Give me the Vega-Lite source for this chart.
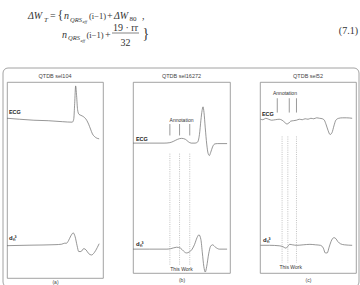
{
  "$schema": "https://vega.github.io/schema/vega-lite/v6.json",
  "padding": 0,
  "background": "white",
  "spacing": 22,
  "bounds": "flush",
  "config": {
    "view": {"stroke": "#8c8c8c", "strokeWidth": 0.8},
    "font": "Liberation Sans",
    "title": {"fontSize": 5.5, "fontWeight": "normal", "color": "#444", "offset": 3, "font": "Liberation Sans"}
  },
  "vconcat": [
    {
      "width": 360,
      "height": 60,
      "view": {"stroke": null},
      "data": {"values": [{"k": 1}]},
      "layer": [
        {"mark": {"type": "rect", "fill": "white", "fillOpacity": 0, "stroke": "#8c8c8c", "strokeWidth": 0.8, "cornerRadius": 5, "clip": false},
         "encoding": {"x": {"datum": 3, "type": "quantitative", "scale": {"domain": [0, 360]}, "axis": null}, "x2": {"datum": 359}, "y": {"datum": 68, "type": "quantitative", "scale": {"domain": [0, 60], "reverse": true}, "axis": null}, "y2": {"datum": 287}}},
        {"mark": {"type": "text", "align": "left", "baseline": "alphabetic", "font": "Liberation Serif", "fontSize": 10, "fontStyle": "italic", "color": "#333"},
         "encoding": {"x": {"datum": 28, "type": "quantitative", "scale": {"domain": [0, 360]}, "axis": null}, "y": {"datum": 19, "type": "quantitative", "scale": {"domain": [0, 60], "reverse": true}, "axis": null}, "text": {"value": "ΔW"}}},
        {"mark": {"type": "text", "align": "left", "baseline": "alphabetic", "font": "Liberation Serif", "fontSize": 7, "fontStyle": "italic", "color": "#333"},
         "encoding": {"x": {"datum": 44, "type": "quantitative", "scale": {"domain": [0, 360]}, "axis": null}, "y": {"datum": 21.5, "type": "quantitative", "scale": {"domain": [0, 60], "reverse": true}, "axis": null}, "text": {"value": "T"}}},
        {"mark": {"type": "text", "align": "left", "baseline": "alphabetic", "font": "Liberation Serif", "fontSize": 10, "color": "#333"},
         "encoding": {"x": {"datum": 50, "type": "quantitative", "scale": {"domain": [0, 360]}, "axis": null}, "y": {"datum": 19, "type": "quantitative", "scale": {"domain": [0, 60], "reverse": true}, "axis": null}, "text": {"value": "="}}},
        {"mark": {"type": "text", "align": "left", "baseline": "alphabetic", "font": "Liberation Serif", "fontSize": 12, "color": "#333"},
         "encoding": {"x": {"datum": 57.5, "type": "quantitative", "scale": {"domain": [0, 360]}, "axis": null}, "y": {"datum": 18.5, "type": "quantitative", "scale": {"domain": [0, 60], "reverse": true}, "axis": null}, "text": {"value": "{"}}},
        {"mark": {"type": "text", "align": "left", "baseline": "alphabetic", "font": "Liberation Serif", "fontSize": 10, "fontStyle": "italic", "color": "#333"},
         "encoding": {"x": {"datum": 64, "type": "quantitative", "scale": {"domain": [0, 360]}, "axis": null}, "y": {"datum": 19, "type": "quantitative", "scale": {"domain": [0, 60], "reverse": true}, "axis": null}, "text": {"value": "n"}}},
        {"mark": {"type": "text", "align": "left", "baseline": "alphabetic", "font": "Liberation Serif", "fontSize": 6.5, "fontStyle": "italic", "color": "#333"},
         "encoding": {"x": {"datum": 70, "type": "quantitative", "scale": {"domain": [0, 360]}, "axis": null}, "y": {"datum": 21.5, "type": "quantitative", "scale": {"domain": [0, 60], "reverse": true}, "axis": null}, "text": {"value": "QRS"}}},
        {"mark": {"type": "text", "align": "left", "baseline": "alphabetic", "font": "Liberation Serif", "fontSize": 4.5, "fontStyle": "italic", "color": "#333"},
         "encoding": {"x": {"datum": 82.5, "type": "quantitative", "scale": {"domain": [0, 360]}, "axis": null}, "y": {"datum": 23, "type": "quantitative", "scale": {"domain": [0, 60], "reverse": true}, "axis": null}, "text": {"value": "eff"}}},
        {"mark": {"type": "text", "align": "left", "baseline": "alphabetic", "font": "Liberation Serif", "fontSize": 8.5, "color": "#333"},
         "encoding": {"x": {"datum": 89, "type": "quantitative", "scale": {"domain": [0, 360]}, "axis": null}, "y": {"datum": 19, "type": "quantitative", "scale": {"domain": [0, 60], "reverse": true}, "axis": null}, "text": {"value": "(i−1)"}}},
        {"mark": {"type": "text", "align": "left", "baseline": "alphabetic", "font": "Liberation Serif", "fontSize": 10, "color": "#333"},
         "encoding": {"x": {"datum": 107, "type": "quantitative", "scale": {"domain": [0, 360]}, "axis": null}, "y": {"datum": 19, "type": "quantitative", "scale": {"domain": [0, 60], "reverse": true}, "axis": null}, "text": {"value": "+"}}},
        {"mark": {"type": "text", "align": "left", "baseline": "alphabetic", "font": "Liberation Serif", "fontSize": 10, "fontStyle": "italic", "color": "#333"},
         "encoding": {"x": {"datum": 114, "type": "quantitative", "scale": {"domain": [0, 360]}, "axis": null}, "y": {"datum": 19, "type": "quantitative", "scale": {"domain": [0, 60], "reverse": true}, "axis": null}, "text": {"value": "ΔW"}}},
        {"mark": {"type": "text", "align": "left", "baseline": "alphabetic", "font": "Liberation Serif", "fontSize": 7, "color": "#333"},
         "encoding": {"x": {"datum": 129.5, "type": "quantitative", "scale": {"domain": [0, 360]}, "axis": null}, "y": {"datum": 21, "type": "quantitative", "scale": {"domain": [0, 60], "reverse": true}, "axis": null}, "text": {"value": "80"}}},
        {"mark": {"type": "text", "align": "left", "baseline": "alphabetic", "font": "Liberation Serif", "fontSize": 10, "color": "#333"},
         "encoding": {"x": {"datum": 142, "type": "quantitative", "scale": {"domain": [0, 360]}, "axis": null}, "y": {"datum": 19, "type": "quantitative", "scale": {"domain": [0, 60], "reverse": true}, "axis": null}, "text": {"value": ","}}},
        {"mark": {"type": "text", "align": "left", "baseline": "alphabetic", "font": "Liberation Serif", "fontSize": 10, "fontStyle": "italic", "color": "#333"},
         "encoding": {"x": {"datum": 62, "type": "quantitative", "scale": {"domain": [0, 360]}, "axis": null}, "y": {"datum": 37.5, "type": "quantitative", "scale": {"domain": [0, 60], "reverse": true}, "axis": null}, "text": {"value": "n"}}},
        {"mark": {"type": "text", "align": "left", "baseline": "alphabetic", "font": "Liberation Serif", "fontSize": 6.5, "fontStyle": "italic", "color": "#333"},
         "encoding": {"x": {"datum": 68, "type": "quantitative", "scale": {"domain": [0, 360]}, "axis": null}, "y": {"datum": 40, "type": "quantitative", "scale": {"domain": [0, 60], "reverse": true}, "axis": null}, "text": {"value": "QRS"}}},
        {"mark": {"type": "text", "align": "left", "baseline": "alphabetic", "font": "Liberation Serif", "fontSize": 4.5, "fontStyle": "italic", "color": "#333"},
         "encoding": {"x": {"datum": 80.5, "type": "quantitative", "scale": {"domain": [0, 360]}, "axis": null}, "y": {"datum": 41.5, "type": "quantitative", "scale": {"domain": [0, 60], "reverse": true}, "axis": null}, "text": {"value": "eff"}}},
        {"mark": {"type": "text", "align": "left", "baseline": "alphabetic", "font": "Liberation Serif", "fontSize": 8.5, "color": "#333"},
         "encoding": {"x": {"datum": 86.5, "type": "quantitative", "scale": {"domain": [0, 360]}, "axis": null}, "y": {"datum": 37.5, "type": "quantitative", "scale": {"domain": [0, 60], "reverse": true}, "axis": null}, "text": {"value": "(i−1)"}}},
        {"mark": {"type": "text", "align": "left", "baseline": "alphabetic", "font": "Liberation Serif", "fontSize": 10, "color": "#333"},
         "encoding": {"x": {"datum": 105, "type": "quantitative", "scale": {"domain": [0, 360]}, "axis": null}, "y": {"datum": 37.5, "type": "quantitative", "scale": {"domain": [0, 60], "reverse": true}, "axis": null}, "text": {"value": "+"}}},
        {"mark": {"type": "text", "align": "center", "baseline": "alphabetic", "font": "Liberation Serif", "fontSize": 10, "color": "#333"},
         "encoding": {"x": {"datum": 125.5, "type": "quantitative", "scale": {"domain": [0, 360]}, "axis": null}, "y": {"datum": 30.5, "type": "quantitative", "scale": {"domain": [0, 60], "reverse": true}, "axis": null}, "text": {"value": "19 · rr"}}},
        {"mark": {"type": "rule", "stroke": "#333", "strokeWidth": 0.6},
         "encoding": {"x": {"datum": 112, "type": "quantitative", "scale": {"domain": [0, 360]}, "axis": null}, "x2": {"datum": 139}, "y": {"datum": 33, "type": "quantitative", "scale": {"domain": [0, 60], "reverse": true}, "axis": null}}},
        {"mark": {"type": "text", "align": "center", "baseline": "alphabetic", "font": "Liberation Serif", "fontSize": 10, "color": "#333"},
         "encoding": {"x": {"datum": 125.5, "type": "quantitative", "scale": {"domain": [0, 360]}, "axis": null}, "y": {"datum": 46, "type": "quantitative", "scale": {"domain": [0, 60], "reverse": true}, "axis": null}, "text": {"value": "32"}}},
        {"mark": {"type": "text", "align": "left", "baseline": "alphabetic", "font": "Liberation Serif", "fontSize": 14, "color": "#333"},
         "encoding": {"x": {"datum": 142.5, "type": "quantitative", "scale": {"domain": [0, 360]}, "axis": null}, "y": {"datum": 37.5, "type": "quantitative", "scale": {"domain": [0, 60], "reverse": true}, "axis": null}, "text": {"value": "}"}}},
        {"mark": {"type": "text", "align": "right", "baseline": "alphabetic", "font": "Liberation Serif", "fontSize": 10, "color": "#333"},
         "encoding": {"x": {"datum": 358, "type": "quantitative", "scale": {"domain": [0, 360]}, "axis": null}, "y": {"datum": 33.5, "type": "quantitative", "scale": {"domain": [0, 60], "reverse": true}, "axis": null}, "text": {"value": "(7.1)"}}}
      ]
    },
    {
      "hconcat": [
        {"width": 7, "height": 10, "view": {"stroke": null}, "data": {"values": []}, "mark": "point"},
        {
          "width": 96,
          "height": 196,
          "title": {"text": "QTDB sel104"},
          "layer": [
            {
              "data": {"values": [
                {"s": "ecg", "t": 0, "v": 163}, {"s": "ecg", "t": 13, "v": 162}, {"s": "ecg", "t": 28, "v": 161}, {"s": "ecg", "t": 43, "v": 160.5}, {"s": "ecg", "t": 58, "v": 159.5}, {"s": "ecg", "t": 68, "v": 159}, {"s": "ecg", "t": 69.5, "v": 162}, {"s": "ecg", "t": 70.5, "v": 178}, {"s": "ecg", "t": 71.5, "v": 196}, {"s": "ecg", "t": 72.5, "v": 186}, {"s": "ecg", "t": 73.5, "v": 172}, {"s": "ecg", "t": 75, "v": 167}, {"s": "ecg", "t": 77, "v": 166}, {"s": "ecg", "t": 79, "v": 165}, {"s": "ecg", "t": 81, "v": 163.5}, {"s": "ecg", "t": 83, "v": 161}, {"s": "ecg", "t": 85, "v": 157}, {"s": "ecg", "t": 87, "v": 152}, {"s": "ecg", "t": 89, "v": 147}, {"s": "ecg", "t": 91, "v": 144.5}, {"s": "ecg", "t": 93, "v": 143}, {"s": "ecg", "t": 96, "v": 142},
                {"s": "d", "t": 0, "v": 33}, {"s": "d", "t": 25, "v": 33.5}, {"s": "d", "t": 50, "v": 34}, {"s": "d", "t": 57, "v": 34.5}, {"s": "d", "t": 60, "v": 35.5}, {"s": "d", "t": 62, "v": 35.5}, {"s": "d", "t": 64, "v": 38}, {"s": "d", "t": 66.5, "v": 43}, {"s": "d", "t": 69, "v": 46}, {"s": "d", "t": 71, "v": 42}, {"s": "d", "t": 73, "v": 33}, {"s": "d", "t": 74.7, "v": 27}, {"s": "d", "t": 77, "v": 27}, {"s": "d", "t": 80, "v": 30}, {"s": "d", "t": 82.5, "v": 28.5}, {"s": "d", "t": 85, "v": 25}, {"s": "d", "t": 88, "v": 23.5}, {"s": "d", "t": 91, "v": 26}, {"s": "d", "t": 94, "v": 31}, {"s": "d", "t": 96, "v": 35}
              ]},
              "mark": {"type": "line", "stroke": "#6a6a6a", "strokeWidth": 0.7, "interpolate": "monotone"},
              "encoding": {
                "x": {"field": "t", "type": "quantitative", "scale": {"domain": [0, 96]}, "axis": {"title": "(a)", "labels": false, "ticks": false, "domain": false, "grid": false, "titleFontSize": 5, "titleFontWeight": "normal", "titleColor": "#444", "titlePadding": 1, "titleFont": "Liberation Sans"}},
                "y": {"field": "v", "type": "quantitative", "scale": {"domain": [0, 196]}, "axis": null},
                "detail": {"field": "s"}
              }
            },
            {"data": {"values": [{"k": 1}]},
             "mark": {"type": "text", "align": "left", "baseline": "middle", "fontSize": 5.5, "fontWeight": "bold", "color": "#222"},
             "encoding": {"x": {"datum": 2}, "y": {"datum": 169}, "text": {"value": "ECG"}}},
            {"data": {"values": [{"k": 1}]},
             "mark": {"type": "text", "align": "left", "baseline": "middle", "fontSize": 6, "fontWeight": "bold", "color": "#222"},
             "encoding": {"x": {"datum": 2}, "y": {"datum": 41}, "text": {"value": "dₙ³"}}}
          ]
        },
        {"width": 30, "height": 10, "view": {"stroke": null}, "data": {"values": []}, "mark": "point"},
        {
          "width": 97,
          "height": 191,
          "title": {"text": "QTDB sel16272"},
          "layer": [
            {
              "data": {"values": [
                {"s": "ecg", "t": 0, "v": 136}, {"s": "ecg", "t": 17, "v": 136}, {"s": "ecg", "t": 32, "v": 136}, {"s": "ecg", "t": 38, "v": 136.5}, {"s": "ecg", "t": 42, "v": 138}, {"s": "ecg", "t": 46, "v": 140}, {"s": "ecg", "t": 50, "v": 141}, {"s": "ecg", "t": 54, "v": 140}, {"s": "ecg", "t": 57, "v": 137.5}, {"s": "ecg", "t": 60, "v": 136}, {"s": "ecg", "t": 64, "v": 136}, {"s": "ecg", "t": 66.5, "v": 137}, {"s": "ecg", "t": 68.5, "v": 145}, {"s": "ecg", "t": 70, "v": 160}, {"s": "ecg", "t": 71.2, "v": 170}, {"s": "ecg", "t": 72.2, "v": 174}, {"s": "ecg", "t": 73.2, "v": 168}, {"s": "ecg", "t": 74.5, "v": 152}, {"s": "ecg", "t": 76, "v": 135}, {"s": "ecg", "t": 77.5, "v": 125}, {"s": "ecg", "t": 78.7, "v": 123}, {"s": "ecg", "t": 80, "v": 126}, {"s": "ecg", "t": 82, "v": 132}, {"s": "ecg", "t": 84, "v": 135}, {"s": "ecg", "t": 87, "v": 135.5}, {"s": "ecg", "t": 97, "v": 135.5},
                {"s": "d", "t": 0, "v": 25}, {"s": "d", "t": 17, "v": 25}, {"s": "d", "t": 35, "v": 25}, {"s": "d", "t": 39, "v": 25.5}, {"s": "d", "t": 45, "v": 27}, {"s": "d", "t": 49, "v": 26}, {"s": "d", "t": 52, "v": 23}, {"s": "d", "t": 55, "v": 21}, {"s": "d", "t": 58, "v": 22}, {"s": "d", "t": 61, "v": 25}, {"s": "d", "t": 63.5, "v": 30}, {"s": "d", "t": 66, "v": 37}, {"s": "d", "t": 68, "v": 40}, {"s": "d", "t": 70, "v": 35}, {"s": "d", "t": 71.5, "v": 21}, {"s": "d", "t": 73, "v": 7}, {"s": "d", "t": 74.5, "v": 1}, {"s": "d", "t": 76, "v": 7}, {"s": "d", "t": 78, "v": 20}, {"s": "d", "t": 80, "v": 28}, {"s": "d", "t": 82, "v": 29.5}, {"s": "d", "t": 85, "v": 27}, {"s": "d", "t": 89, "v": 25}, {"s": "d", "t": 97, "v": 25}
              ]},
              "mark": {"type": "line", "stroke": "#6a6a6a", "strokeWidth": 0.7, "interpolate": "monotone"},
              "encoding": {
                "x": {"field": "t", "type": "quantitative", "scale": {"domain": [0, 97]}, "axis": {"title": "(b)", "labels": false, "ticks": false, "domain": false, "grid": false, "titleFontSize": 5, "titleFontWeight": "normal", "titleColor": "#444", "titlePadding": 4, "titleFont": "Liberation Sans"}},
                "y": {"field": "v", "type": "quantitative", "scale": {"domain": [0, 191]}, "axis": null},
                "detail": {"field": "s"}
              }
            },
            {"data": {"values": [{"t": 38}, {"t": 48}, {"t": 58.5}]},
             "mark": {"type": "rule", "stroke": "#555", "strokeWidth": 0.6},
             "encoding": {"x": {"field": "t", "type": "quantitative"}, "y": {"datum": 156}, "y2": {"datum": 144}}},
            {"data": {"values": [{"t": 38}, {"t": 48}, {"t": 58.5}]},
             "mark": {"type": "rule", "stroke": "#999", "strokeWidth": 0.6, "strokeDash": [1, 1.2]},
             "encoding": {"x": {"field": "t", "type": "quantitative"}, "y": {"datum": 125}, "y2": {"datum": 8}}},
            {"data": {"values": [{"k": 1}]},
             "mark": {"type": "text", "align": "center", "baseline": "middle", "fontSize": 5, "color": "#333"},
             "encoding": {"x": {"datum": 50}, "y": {"datum": 160}, "text": {"value": "Annotation"}}},
            {"data": {"values": [{"k": 1}]},
             "mark": {"type": "text", "align": "center", "baseline": "middle", "fontSize": 5, "color": "#333"},
             "encoding": {"x": {"datum": 50}, "y": {"datum": 4.5}, "text": {"value": "This Work"}}},
            {"data": {"values": [{"k": 1}]},
             "mark": {"type": "text", "align": "left", "baseline": "middle", "fontSize": 5.5, "fontWeight": "bold", "color": "#222"},
             "encoding": {"x": {"datum": 3}, "y": {"datum": 140}, "text": {"value": "ECG"}}},
            {"data": {"values": [{"k": 1}]},
             "mark": {"type": "text", "align": "left", "baseline": "middle", "fontSize": 6, "fontWeight": "bold", "color": "#222"},
             "encoding": {"x": {"datum": 3}, "y": {"datum": 30}, "text": {"value": "dₙ³"}}}
          ]
        },
        {"width": 30, "height": 10, "view": {"stroke": null}, "data": {"values": []}, "mark": "point"},
        {
          "width": 96,
          "height": 191,
          "title": {"text": "QTDB sel52"},
          "layer": [
            {
              "data": {"values": [
                {"s": "ecg", "t": 0.5, "v": 161}, {"s": "ecg", "t": 3, "v": 160.5}, {"s": "ecg", "t": 6, "v": 162}, {"s": "ecg", "t": 9, "v": 161}, {"s": "ecg", "t": 12, "v": 160}, {"s": "ecg", "t": 16, "v": 160.5}, {"s": "ecg", "t": 20, "v": 161}, {"s": "ecg", "t": 23, "v": 160}, {"s": "ecg", "t": 26, "v": 157.5}, {"s": "ecg", "t": 28, "v": 156}, {"s": "ecg", "t": 30, "v": 157}, {"s": "ecg", "t": 32, "v": 159}, {"s": "ecg", "t": 35, "v": 159.5}, {"s": "ecg", "t": 38, "v": 160}, {"s": "ecg", "t": 41, "v": 161}, {"s": "ecg", "t": 44, "v": 160.5}, {"s": "ecg", "t": 47, "v": 161.5}, {"s": "ecg", "t": 50, "v": 161}, {"s": "ecg", "t": 53, "v": 162}, {"s": "ecg", "t": 56, "v": 161.5}, {"s": "ecg", "t": 59, "v": 162.5}, {"s": "ecg", "t": 62, "v": 162}, {"s": "ecg", "t": 65, "v": 161.5}, {"s": "ecg", "t": 67, "v": 160}, {"s": "ecg", "t": 69, "v": 155}, {"s": "ecg", "t": 71, "v": 149}, {"s": "ecg", "t": 73, "v": 145}, {"s": "ecg", "t": 75, "v": 147}, {"s": "ecg", "t": 77, "v": 154}, {"s": "ecg", "t": 79, "v": 160}, {"s": "ecg", "t": 82, "v": 162}, {"s": "ecg", "t": 86, "v": 162.5}, {"s": "ecg", "t": 90, "v": 162.5}, {"s": "ecg", "t": 96, "v": 162},
                {"s": "d", "t": 0.5, "v": 29}, {"s": "d", "t": 10, "v": 29}, {"s": "d", "t": 20, "v": 28.5}, {"s": "d", "t": 24, "v": 27.5}, {"s": "d", "t": 27, "v": 26}, {"s": "d", "t": 29, "v": 28}, {"s": "d", "t": 31, "v": 30}, {"s": "d", "t": 34, "v": 29.5}, {"s": "d", "t": 38, "v": 29}, {"s": "d", "t": 45, "v": 29.5}, {"s": "d", "t": 52, "v": 30}, {"s": "d", "t": 58, "v": 29.5}, {"s": "d", "t": 63, "v": 29}, {"s": "d", "t": 66, "v": 26}, {"s": "d", "t": 68, "v": 21}, {"s": "d", "t": 70, "v": 21}, {"s": "d", "t": 72, "v": 27}, {"s": "d", "t": 74, "v": 33}, {"s": "d", "t": 77, "v": 37}, {"s": "d", "t": 79, "v": 36}, {"s": "d", "t": 81, "v": 33}, {"s": "d", "t": 84, "v": 30.5}, {"s": "d", "t": 88, "v": 29.5}, {"s": "d", "t": 96, "v": 29}
              ]},
              "mark": {"type": "line", "stroke": "#6a6a6a", "strokeWidth": 0.7, "interpolate": "monotone"},
              "encoding": {
                "x": {"field": "t", "type": "quantitative", "scale": {"domain": [0, 96]}, "axis": {"title": "(c)", "labels": false, "ticks": false, "domain": false, "grid": false, "titleFontSize": 5, "titleFontWeight": "normal", "titleColor": "#444", "titlePadding": 4, "titleFont": "Liberation Sans"}},
                "y": {"field": "v", "type": "quantitative", "scale": {"domain": [0, 191]}, "axis": null},
                "detail": {"field": "s"}
              }
            },
            {"data": {"values": [{"t": 18}, {"t": 30.5}, {"t": 38}]},
             "mark": {"type": "rule", "stroke": "#555", "strokeWidth": 0.6},
             "encoding": {"x": {"field": "t", "type": "quantitative"}, "y": {"datum": 183}, "y2": {"datum": 168}}},
            {"data": {"values": [{"t": 23}, {"t": 29}, {"t": 38}]},
             "mark": {"type": "rule", "stroke": "#999", "strokeWidth": 0.6, "strokeDash": [1, 1.2]},
             "encoding": {"x": {"field": "t", "type": "quantitative"}, "y": {"datum": 143}, "y2": {"datum": 11}}},
            {"data": {"values": [{"k": 1}]},
             "mark": {"type": "text", "align": "center", "baseline": "middle", "fontSize": 5, "color": "#333"},
             "encoding": {"x": {"datum": 26}, "y": {"datum": 188}, "text": {"value": "Annotation"}}},
            {"data": {"values": [{"k": 1}]},
             "mark": {"type": "text", "align": "center", "baseline": "middle", "fontSize": 5, "color": "#333"},
             "encoding": {"x": {"datum": 32}, "y": {"datum": 6}, "text": {"value": "This Work"}}},
            {"data": {"values": [{"k": 1}]},
             "mark": {"type": "text", "align": "left", "baseline": "middle", "fontSize": 5.5, "fontWeight": "bold", "color": "#222"},
             "encoding": {"x": {"datum": 2}, "y": {"datum": 166}, "text": {"value": "ECG"}}},
            {"data": {"values": [{"k": 1}]},
             "mark": {"type": "text", "align": "left", "baseline": "middle", "fontSize": 6, "fontWeight": "bold", "color": "#222"},
             "encoding": {"x": {"datum": 3}, "y": {"datum": 35}, "text": {"value": "dₙ³"}}}
          ]
        }
      ],
      "spacing": 0,
      "bounds": "flush"
    }
  ]
}
